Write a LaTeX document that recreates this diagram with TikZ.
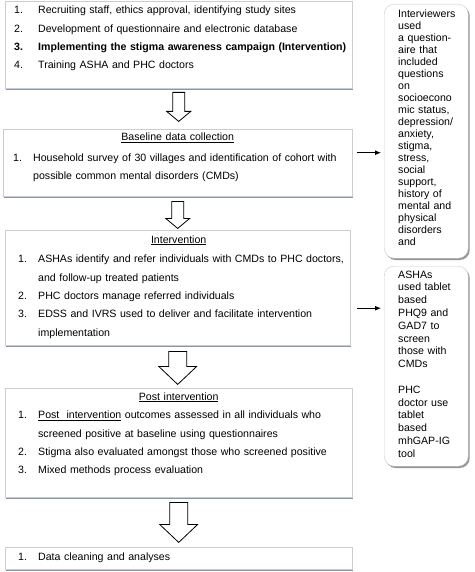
\documentclass[tikz,border=0pt]{standalone}
\usepackage{fontspec}
\setmainfont{Liberation Sans}
\usetikzlibrary{arrows.meta, positioning, calc, shadows}
\definecolor{cFrame}{RGB}{205,205,205}
\definecolor{cShade}{RGB}{135,150,172}
\definecolor{cShadeR}{RGB}{150,150,150}
\newcommand{\itm}[2][20pt]{\makebox[#1][l]{#2}}
\newcommand{\cont}[1][20pt]{\hspace*{#1}}
\newcommand{\jline}[2][300pt]{\makebox[#1][s]{#2}}
\newcommand{\boxhead}[2][321pt]{\makebox[#1][c]{\underline{#2}}}
\tikzset{
	stagebox/.style ={rectangle, draw=cFrame, fill=white, anchor=north west, inner sep=0pt, minimum width=347pt, drop shadow={shadow xshift=1.2pt, shadow yshift=-1.6pt, fill=cShade, opacity=1}},
	stagetext/.style={anchor=base west, inner sep=0pt, text width=330pt, align=left},
	notebox/.style  ={rectangle, rounded corners=10pt, draw=cFrame, fill=white, anchor=north west, inner sep=0pt, minimum width=84pt, drop shadow={shadow xshift=1.5pt, shadow yshift=-1.8pt, fill=cShadeR, opacity=1}},
	notetext/.style ={anchor=base west, inner sep=0pt, text width=68pt, align=left},
	hollow/.style   ={draw=black, fill=white, line width=0.8pt, line join=miter},
	sig/.style      ={-{Latex[length=6pt, width=5pt]}, line width=0.9pt},
}
\begin{document}
\begin{tikzpicture}[x=1pt, y=-1pt, font=\fontsize{10.6}{18.3}\selectfont]
\useasboundingbox (0,0) rectangle (474,572);
% stage boxes
\node[stagebox, minimum height=87pt] (b1) at (5,1) {};
\node[stagebox, minimum width=349pt, minimum height=67pt] (b2) at (3,129) {};
\node[stagebox, minimum width=345pt, minimum height=115pt] (b3) at (5,230) {};
\node[stagebox, minimum height=109pt] (b4) at (5,388) {};
\node[stagebox, minimum height=22pt] (b5) at (5,547) {};
% side notes
\node[notebox, minimum height=254pt] (r1) at (384,4) {};
\node[notebox, minimum height=200pt] (r2) at (384,266) {};
% texts
\node[stagetext] (t1) at (14,14) {\itm[24pt]{1.}Recruiting staff, ethics approval, identifying study sites\\
	\itm[24pt]{2.}Development of questionnaire and electronic database\\
	\mbox{\bfseries\itm[24pt]{3.}Implementing the stigma awareness campaign (Intervention)}\\
	\itm[24pt]{4.}Training ASHA and PHC doctors};
\node[stagetext] (t2) at (13,141) {\boxhead[329pt]{Baseline data collection}\\[2pt]
	\itm{1.}\jline[304pt]{Household survey of 30 villages and identification of cohort with}\\
	\cont possible common mental disorders (CMDs)};
\node[stagetext] (t3) at (18,243) {\boxhead{Intervention}\\[1.5pt]
	\itm{1.}\jline{ASHAs identify and refer individuals with CMDs to PHC doctors,}\\
	\cont and follow-up treated patients\\
	\itm{2.}PHC doctors manage referred individuals\\
	\itm{3.}\jline{EDSS and IVRS used to deliver and facilitate intervention}\\
	\cont implementation};
\node[stagetext] (t4) at (18,400) {\boxhead{Post intervention}\\[0.5pt]
	\itm{1.}\jline{\underline{Post\hspace{3.6pt} intervention} outcomes assessed in all individuals who}\\
	\cont screened positive at baseline using questionnaires\\
	\itm{2.}Stigma also evaluated amongst those who screened positive\\
	\itm{3.}Mixed methods process evaluation};
\node[stagetext] (t5) at (18,560) {\itm{1.}Data cleaning and analyses};
\node[notetext, font=\fontsize{10.6}{12}\selectfont] (n1) at (398,18) {Interviewers\\ used\\ a question-\\ aire that\\ included\\ questions\\ on\\ socioecono\\ mic status,\\ depression/\\ anxiety,\\ stigma,\\ stress,\\ social\\ support,\\ history of\\ mental and\\ physical\\ disorders\\ and};
\node[notetext, font=\fontsize{10.6}{12.8}\selectfont] (n2) at (398,278) {ASHAs\\ used tablet\\ based\\ PHQ9 and\\ GAD7 to\\ screen\\ those with\\ CMDs\\[12.8pt] PHC\\ doctor use\\ tablet\\ based\\ mhGAP-IG\\ tool};
% flow arrows
\draw[hollow] ($(b1.south)+(-6,4)$) -- ++(0,19) -- ++(-6,0) -- ++(12,10) -- ++(12,-10) -- ++(-6,0) -- ++(0,-19) -- cycle;
\draw[hollow] ($(b2.south)+(-6,5)$) -- ++(0,17) -- ++(-6,0) -- ++(12,10) -- ++(12,-10) -- ++(-6,0) -- ++(0,-17) -- cycle;
\draw[hollow] ($(b3.south)+(-9,6)$) -- ++(0,15) -- ++(-10,0) -- ++(19,18) -- ++(19,-18) -- ++(-10,0) -- ++(0,-15) -- cycle;
\draw[hollow] ($(b4.south)+(-9,5)$) -- ++(0,22) -- ++(-10,0) -- ++(19,18) -- ++(19,-18) -- ++(-10,0) -- ++(0,-22) -- cycle;
\draw[sig, shorten >=3pt] ([xshift=5pt, yshift=10pt]b2.east) -- ([yshift=10pt]b2.east -| r1.west);
\draw[sig, shorten >=3pt] ([xshift=7pt, yshift=-20.5pt]b3.east) -- ([yshift=-20.5pt]b3.east -| r2.west);
\end{tikzpicture}
\end{document}
